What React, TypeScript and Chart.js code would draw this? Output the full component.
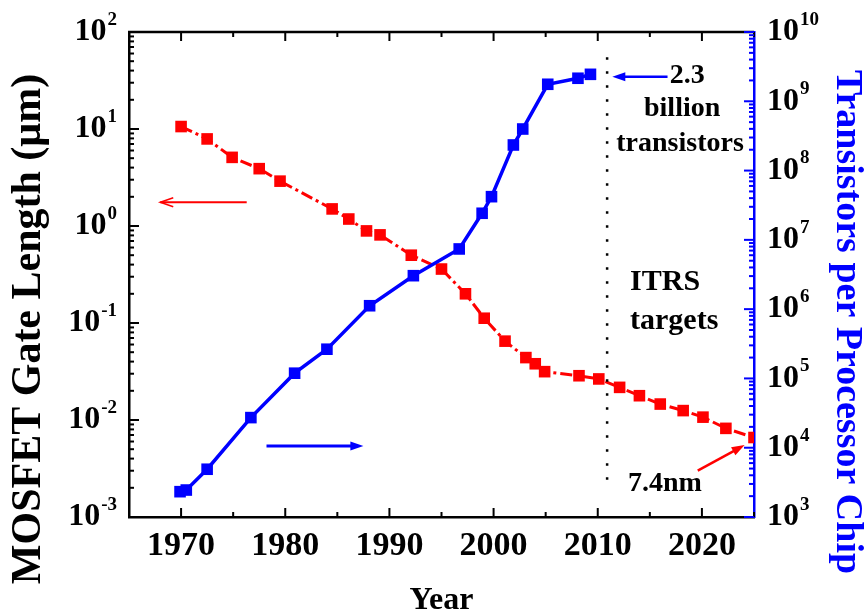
import React, { useEffect, useRef } from 'react';
import { Chart, registerables } from 'chart.js';
Chart.register(...registerables);

// ---- data ----
const gateYears = [1970, 1972.5, 1974.9, 1977.5, 1979.5, 1984.5, 1986.1, 1987.8, 1989.1, 1992.1, 1995.0, 1997.3, 1999.1, 2001.1, 2003.1, 2004.0, 2004.9, 2008.2, 2010.1, 2012.1, 2014.0, 2016.0, 2018.2, 2020.1, 2022.3, 2025];
const gateLengthUm = [10.6, 7.9, 5.1, 3.9, 2.9, 1.5, 1.18, 0.89, 0.81, 0.5, 0.36, 0.2, 0.112, 0.065, 0.044, 0.038, 0.0315, 0.0286, 0.0265, 0.0217, 0.0178, 0.0146, 0.0125, 0.0107, 0.0082, 0.0066];
const chipYears = [1969.9, 1970.5, 1972.5, 1976.7, 1980.9, 1984.0, 1988.1, 1992.3, 1996.7, 1998.9, 1999.8, 2001.9, 2002.8, 2005.2, 2008.1, 2009.3];
const transistorsPerChip = [2320, 2450, 4890, 27200, 119000, 264000, 1.12e6, 3.04e6, 7.39e6, 2.42e7, 4.2e7, 2.34e8, 3.98e8, 1.76e9, 2.15e9, 2.45e9];

const xTickLabels = [1970, 1980, 1990, 2000, 2010, 2020];
const xMinorTicks = [1965, 1970, 1975, 1980, 1985, 1990, 1995, 2000, 2005, 2010, 2015, 2020, 2025];
const leftTickExps = [-3, -2, -1, 0, 1, 2];
const rightTickExps = [3, 4, 5, 6, 7, 8, 9, 10];

const itrsYear = 2010.9;
const itrsSpan = [55, 0.0019];

// annotation texts (data coordinates)
const noteTexts = ['2.3', 'billion', 'transistors', 'ITRS', 'targets', '7.4nm'];
const noteX = [2016.9, 2018.1, 2017.9, 2013.1, 2013.1, 2012.9];
const noteY = [2.36e9, 7.87e8, 2.46e8, 2.47e6, 6.75e5, 3050];
const noteAlign = ['left', 'center', 'center', 'left', 'left', 'left'];
const noteSize = [28, 28, 28, 30, 30, 28];

// arrows: [x0, y0, x1, y1] tail -> head, with axis
const arrows = [
  { axis: 'y2', color: '#0000ff', w: 2.5, from: [2016.7, 2.26e9], to: [2011.4, 2.26e9], head: 'fill' },
  { axis: 'y', color: '#ff0000', w: 2, from: [1976.3, 1.755], to: [1968.0, 1.755], head: 'open' },
  { axis: 'y2', color: '#0000ff', w: 3, from: [1978.2, 10590], to: [1987.5, 10590], head: 'fill' },
  { axis: 'y', color: '#ff0000', w: 2.5, from: [2019.6, 0.003], to: [2024.1, 0.00552], head: 'fill' },
];

const FONT = '"Liberation Serif", "Times New Roman", serif';
const RED = '#ff0000';
const BLUE = '#0000ff';

function drawPow(ctx: CanvasRenderingContext2D, exp: number, x: number, y: number, align: 'left' | 'right') {
  const big = `bold 32px ${FONT}`;
  const small = `bold 19px ${FONT}`;
  const base = '10';
  const sup = exp < 0 ? '-' + Math.abs(exp) : String(exp);
  ctx.font = big;
  const wb = ctx.measureText(base).width;
  ctx.font = small;
  const ws = ctx.measureText(sup).width;
  const start = align === 'right' ? x - wb - ws - 1 : x;
  ctx.textAlign = 'left';
  ctx.textBaseline = 'middle';
  ctx.fillStyle = '#000';
  ctx.font = big;
  ctx.fillText(base, start, y);
  ctx.font = small;
  ctx.fillText(sup, start + wb + 1, y - 12);
}

const decor = {
  id: 'decor',
  afterDraw(chart: any) {
    const { ctx, chartArea: a, scales } = chart;
    const sx = scales.x, sl = scales.y, sr = scales.y2;
    ctx.save();
    // top frame
    ctx.strokeStyle = '#000';
    ctx.lineWidth = 2.5;
    ctx.beginPath();
    ctx.moveTo(a.left - 1, a.top);
    ctx.lineTo(a.right, a.top);
    ctx.stroke();
    // x ticks (bottom & top, inward)
    ctx.lineWidth = 2;
    for (const v of xMinorTicks) {
      const px = sx.getPixelForValue(v);
      const len = v % 10 === 0 ? 9 : 5;
      ctx.beginPath();
      ctx.moveTo(px, a.bottom);
      ctx.lineTo(px, a.bottom - len);
      ctx.moveTo(px, a.top);
      ctx.lineTo(px, a.top + len);
      ctx.stroke();
    }
    // left log ticks
    const logTicks = (scale: any, exps: number[], xEdge: number, dir: number, color: string) => {
      ctx.strokeStyle = color;
      ctx.lineWidth = 2;
      for (let i = 0; i < exps.length; i++) {
        const e = exps[i];
        const maxM = i === exps.length - 1 ? 1 : 9;
        for (let m = 1; m <= maxM; m++) {
          const py = scale.getPixelForValue(m * Math.pow(10, e));
          const len = m === 1 ? 10 : 5;
          ctx.beginPath();
          ctx.moveTo(xEdge, py);
          ctx.lineTo(xEdge + dir * len, py);
          ctx.stroke();
        }
      }
    };
    logTicks(sl, leftTickExps, a.left, 1, '#000');
    logTicks(sr, rightTickExps, a.right, -1, BLUE);

    // y tick labels
    for (const e of leftTickExps) drawPow(ctx, e, a.left - 12, sl.getPixelForValue(Math.pow(10, e)), 'right');
    for (const e of rightTickExps) drawPow(ctx, e, a.right + 13, sr.getPixelForValue(Math.pow(10, e)), 'left');

    // axis titles
    ctx.textAlign = 'center';
    ctx.textBaseline = 'middle';
    ctx.save();
    ctx.translate(29, 329);
    ctx.rotate(-Math.PI / 2);
    ctx.fillStyle = '#000';
    ctx.font = `bold 42px ${FONT}`;
    ctx.fillText('MOSFET Gate Length (\u03bcm)', 0, 0);
    ctx.restore();
    ctx.save();
    ctx.translate(847, 322);
    ctx.rotate(Math.PI / 2);
    ctx.fillStyle = BLUE;
    ctx.font = `bold 38px ${FONT}`;
    ctx.fillText('Transistors per Processor Chip', 0, 0);
    ctx.restore();

    // annotations
    ctx.fillStyle = '#000';
    for (let i = 0; i < noteTexts.length; i++) {
      ctx.font = `bold ${noteSize[i]}px ${FONT}`;
      ctx.textAlign = noteAlign[i] as CanvasTextAlign;
      ctx.textBaseline = 'middle';
      ctx.fillText(noteTexts[i], sx.getPixelForValue(noteX[i]), sr.getPixelForValue(noteY[i]));
    }
    // arrows
    for (const ar of arrows) {
      const sc = scales[ar.axis];
      const x0 = sx.getPixelForValue(ar.from[0]);
      const y0 = sc.getPixelForValue(ar.from[1]);
      const x1 = sx.getPixelForValue(ar.to[0]);
      const y1 = sc.getPixelForValue(ar.to[1]);
      const ang = Math.atan2(y1 - y0, x1 - x0);
      const hl = 13, hw = 4.5;
      ctx.strokeStyle = ar.color;
      ctx.fillStyle = ar.color;
      ctx.lineWidth = ar.w;
      ctx.beginPath();
      ctx.moveTo(x0, y0);
      ctx.lineTo(x1 - Math.cos(ang) * (ar.head === 'fill' ? hl - 2 : 0), y1 - Math.sin(ang) * (ar.head === 'fill' ? hl - 2 : 0));
      ctx.stroke();
      const bx = x1 - Math.cos(ang) * hl, by = y1 - Math.sin(ang) * hl;
      const px = -Math.sin(ang) * hw, py = Math.cos(ang) * hw;
      if (ar.head === 'fill') {
        ctx.beginPath();
        ctx.moveTo(x1, y1);
        ctx.lineTo(bx + px, by + py);
        ctx.lineTo(bx - px, by - py);
        ctx.closePath();
        ctx.fill();
      } else {
        ctx.lineWidth = 1.5;
        ctx.beginPath();
        ctx.moveTo(bx + px, by + py);
        ctx.lineTo(x1, y1);
        ctx.lineTo(bx - px, by - py);
        ctx.stroke();
      }
    }
    ctx.restore();
  },
};

export default function App() {
  const ref = useRef<HTMLCanvasElement>(null);
  useEffect(() => {
    const chart = new Chart(ref.current as HTMLCanvasElement, {
      type: 'line',
      data: {
        datasets: [
          {
            label: 'ITRS',
            data: itrsSpan.map((v) => ({ x: itrsYear, y: v })),
            yAxisID: 'y',
            borderColor: '#000',
            borderWidth: 2.5,
            borderDash: [2.5, 11.5],
            pointRadius: 0,
          },
          {
            label: 'Transistors per Processor Chip',
            data: chipYears.map((x, i) => ({ x, y: transistorsPerChip[i] })),
            yAxisID: 'y2',
            borderColor: BLUE,
            backgroundColor: BLUE,
            borderWidth: 3.5,
            pointStyle: 'rect',
            pointRadius: 8.2,
            pointBorderWidth: 0,
          },
          {
            label: 'MOSFET Gate Length',
            data: gateYears.map((x, i) => ({ x, y: gateLengthUm[i] })),
            yAxisID: 'y',
            borderColor: RED,
            backgroundColor: RED,
            borderWidth: 3,
            borderDash: [12, 4, 3, 4],
            pointStyle: 'rect',
            pointRadius: 8.2,
            pointBorderWidth: 0,
          },
        ],
      },
      options: {
        responsive: false,
        animation: false,
        layout: { padding: { top: 32, left: 0, right: 0, bottom: 0 } },
        plugins: { legend: { display: false }, tooltip: { enabled: false } },
        scales: {
          x: {
            type: 'linear',
            min: 1965,
            max: 2025,
            afterBuildTicks: (s: any) => {
              s.ticks = xTickLabels.map((v) => ({ value: v }));
            },
            afterFit: (s: any) => {
              s.height = 98;
            },
            ticks: {
              autoSkip: false,
              maxRotation: 0,
              padding: 9,
              color: '#000',
              font: { family: FONT, size: 34, weight: 'bold' },
              callback: (v: any) => String(v),
            },
            grid: { display: false, drawTicks: false },
            border: { display: true, color: '#000', width: 2.5 },
            title: {
              display: true,
              text: 'Year',
              color: '#000',
              font: { family: FONT, size: 32, weight: 'bold', lineHeight: 0.9 },
              padding: { top: 0, bottom: 0 },
            },
          },
          y: {
            type: 'logarithmic',
            position: 'left',
            min: 0.001,
            max: 100,
            afterFit: (s: any) => {
              s.width = 129;
            },
            ticks: { display: false },
            grid: { display: false, drawTicks: false },
            border: { display: true, color: '#000', width: 2.5 },
          },
          y2: {
            type: 'logarithmic',
            position: 'right',
            min: 1e3,
            max: 1e10,
            afterFit: (s: any) => {
              s.width = 111;
            },
            ticks: { display: false },
            grid: { display: false, drawTicks: false },
            border: { display: true, color: BLUE, width: 2.5 },
          },
        },
      },
      plugins: [decor],
    } as any);
    return () => chart.destroy();
  }, []);
  return (
    <canvas
      ref={ref}
      width={865}
      height={615}
      style={{ position: 'fixed', left: 0, top: 0, width: 865, height: 615, display: 'block' }}
    />
  );
}
